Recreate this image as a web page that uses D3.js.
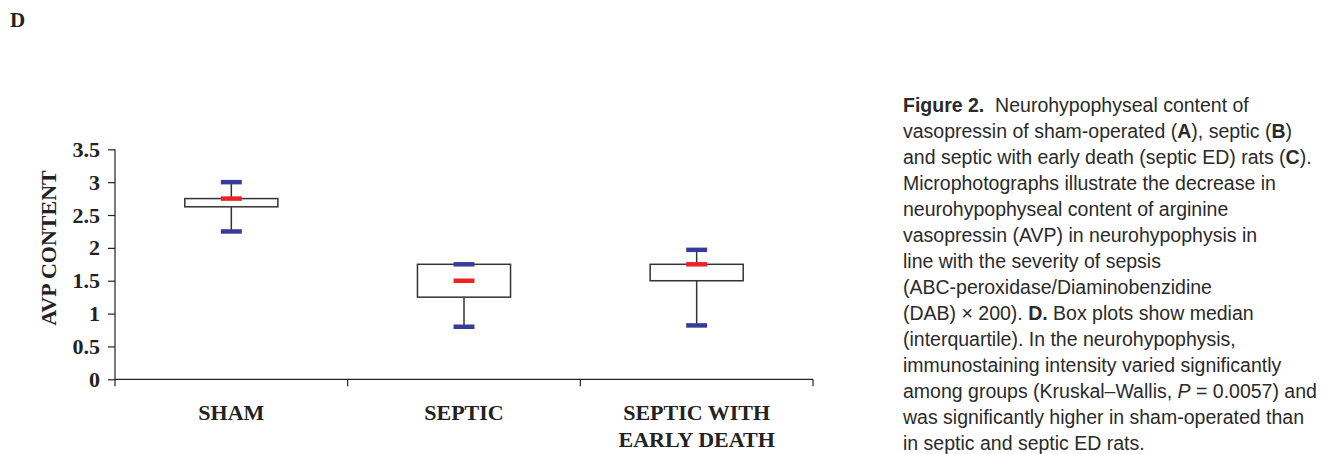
<!DOCTYPE html>
<html>
<head>
<meta charset="utf-8">
<script src="https://cdn.jsdelivr.net/npm/d3@7"></script>
<style>
  body { margin: 0; background: #fff; }
  svg { display: block; }
  .serif { font-family: "Liberation Serif", "Times New Roman", serif; font-weight: bold; fill: #222; }
  .caption { font-family: "Helvetica Neue", "Liberation Sans", Arial, sans-serif; font-size: 19.5px; fill: #2a2a2a; white-space: pre; }
</style>
</head>
<body>
<svg id="chart"></svg>
<script>
// box plot values
const groups = ['SHAM', 'SEPTIC', 'SEPTIC WITH EARLY DEATH'];
const groupLines = [['SHAM'], ['SEPTIC'], ['SEPTIC WITH', 'EARLY DEATH']];
const mins = [2.25, 0.8, 0.82];
const q1s = [2.625, 1.25, 1.5];
const medians = [2.75, 1.5, 1.75];
const q3s = [2.75, 1.75, 1.75];
const maxs = [3.0, 1.75, 1.97];
const yTicks = [0, 0.5, 1, 1.5, 2, 2.5, 3, 3.5];

// caption, **bold** and _italic_ segments
const captionLines = [
  '**Figure 2.**  Neurohypophyseal content of',
  'vasopressin of sham-operated (**A**), septic (**B**)',
  'and septic with early death (septic ED) rats (**C**).',
  'Microphotographs illustrate the decrease in',
  'neurohypophyseal content of arginine',
  'vasopressin (AVP) in neurohypophysis in',
  'line with the severity of sepsis',
  '(ABC-peroxidase/Diaminobenzidine',
  '(DAB) × 200). **D.** Box plots show median',
  '(interquartile). In the neurohypophysis,',
  'immunostaining intensity varied significantly',
  'among groups (Kruskal–Wallis, _P_ = 0.0057) and',
  'was significantly higher in sham-operated than',
  'in septic and septic ED rats.'
];

const width = 1333;
const height = 454;

const data = groups.map((g, i) => ({
  group: g, lines: groupLines[i],
  min: mins[i], q1: q1s[i], median: medians[i], q3: q3s[i], max: maxs[i]
}));

const svg = d3.select('#chart')
  .attr('width', width)
  .attr('height', height);

const xScale = d3.scaleBand()
  .domain(groups)
  .range([115, 813]);

const yScale = d3.scaleLinear()
  .domain([0, 3.5])
  .range([379.3, 149.3]);

const boxW = xScale.bandwidth() * 0.4;
const capW = xScale.bandwidth() * 0.09;

// panel letter
svg.append('text')
  .attr('class', 'serif')
  .attr('x', 10)
  .attr('y', 27)
  .style('font-size', '21px')
  .text('D');

// y axis
const yAxis = d3.axisLeft(yScale)
  .tickValues(yTicks)
  .tickSize(7)
  .tickPadding(8)
  .tickFormat(d => d);
const gy = svg.append('g')
  .attr('transform', 'translate(115,0)')
  .call(yAxis);
gy.select('.domain').attr('stroke', '#222').attr('stroke-width', 1.2).attr('d', `M0,${yScale(3.5)}H0V${yScale(0)}`);
gy.selectAll('.tick line').attr('stroke', '#222').attr('stroke-width', 1.2);
gy.selectAll('.tick text')
  .attr('class', 'serif')
  .style('font-size', '22px')
  .attr('font-family', null);

// x axis
const xAxis = d3.axisBottom(xScale).tickSize(0).tickFormat('');
const gx = svg.append('g')
  .attr('transform', `translate(0,${yScale(0)})`)
  .call(xAxis);
gx.select('.domain').attr('stroke', '#222').attr('stroke-width', 1.2).attr('d', `M115,0H813`);
gx.selectAll('.tick').remove();
const bounds = groups.map(g => xScale(g)).concat([xScale.range()[1]]);
gx.selectAll('.xtick')
  .data(bounds)
  .enter()
  .append('line')
  .attr('x1', d => d).attr('x2', d => d)
  .attr('y1', 0).attr('y2', 7)
  .attr('stroke', '#222')
  .attr('stroke-width', 1.2);

// category labels
const labels = svg.selectAll('.xlabel')
  .data(data)
  .enter()
  .append('text')
  .attr('class', 'serif')
  .attr('text-anchor', 'middle')
  .style('font-size', '22px');
labels.selectAll('tspan')
  .data(d => d.lines.map(l => ({ l, x: xScale(d.group) + xScale.bandwidth() / 2 })))
  .enter()
  .append('tspan')
  .attr('x', d => d.x)
  .attr('y', (d, i) => 420 + i * 27)
  .text(d => d.l);

// y axis title
svg.append('text')
  .attr('class', 'serif')
  .attr('text-anchor', 'middle')
  .attr('transform', 'translate(56,248) rotate(-90)')
  .style('font-size', '22px')
  .text('AVP CONTENT');

// boxes
const cx = d => xScale(d.group) + xScale.bandwidth() / 2;
const boxes = svg.selectAll('.box')
  .data(data)
  .enter()
  .append('g')
  .attr('class', 'box');

boxes.append('line')
  .attr('x1', cx).attr('x2', cx)
  .attr('y1', d => yScale(d.max)).attr('y2', d => yScale(d.q3))
  .attr('stroke', '#333').attr('stroke-width', 1.5);
boxes.append('line')
  .attr('x1', cx).attr('x2', cx)
  .attr('y1', d => yScale(d.q1)).attr('y2', d => yScale(d.min))
  .attr('stroke', '#333').attr('stroke-width', 1.5);

boxes.append('rect')
  .attr('x', d => cx(d) - boxW / 2)
  .attr('y', d => yScale(d.q3))
  .attr('width', boxW)
  .attr('height', d => yScale(d.q1) - yScale(d.q3))
  .attr('fill', '#fff')
  .attr('stroke', '#333')
  .attr('stroke-width', 1.5);

// whisker caps
boxes.selectAll('.cap')
  .data(d => [d.max, d.min].map(v => ({ v, x: cx(d) })))
  .enter()
  .append('line')
  .attr('x1', d => d.x - capW / 2).attr('x2', d => d.x + capW / 2)
  .attr('y1', d => yScale(d.v)).attr('y2', d => yScale(d.v))
  .attr('stroke', '#383b98')
  .attr('stroke-width', 4.5);

// medians
boxes.append('line')
  .attr('x1', d => cx(d) - capW / 2).attr('x2', d => cx(d) + capW / 2)
  .attr('y1', d => yScale(d.median)).attr('y2', d => yScale(d.median))
  .attr('stroke', '#ec2227')
  .attr('stroke-width', 4.5);

// caption
const cap = svg.append('text')
  .attr('class', 'caption');
captionLines.forEach((line, i) => {
  const t = cap.append('tspan')
    .attr('x', 903)
    .attr('y', 112 + i * 26);
  line.split(/(\*\*[^*]+\*\*|_[^_]+_)/).filter(s => s).forEach(seg => {
    const s = t.append('tspan');
    if (seg.startsWith('**')) s.style('font-weight', 'bold').text(seg.slice(2, -2));
    else if (seg.startsWith('_')) s.style('font-style', 'italic').text(seg.slice(1, -1));
    else s.text(seg);
  });
});
</script>
</body>
</html>
